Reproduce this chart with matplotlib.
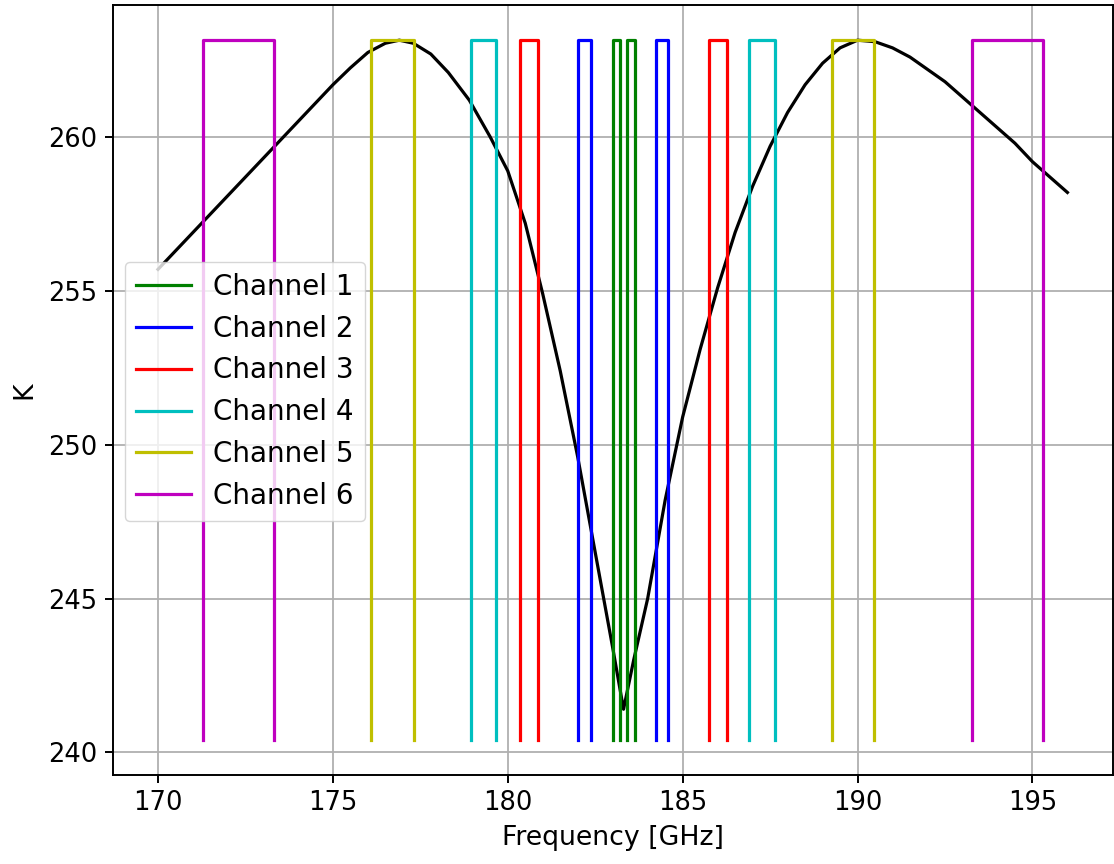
import numpy as np
import matplotlib
matplotlib.use('Agg')
import matplotlib.pyplot as plt

# brightness temperature curve
freq = [170.0, 170.5, 171.0, 171.5, 172.0, 172.5, 173.0, 173.5, 174.0, 174.5,
        175.0, 175.5, 176.0, 176.5, 176.9, 177.3, 177.8, 178.3, 178.9, 179.5,
        180.0, 180.5, 181.0, 181.5, 182.0, 182.5, 183.0, 183.31, 183.6, 184.0,
        184.5, 185.0, 185.5, 186.0, 186.5, 187.0, 187.5, 188.0, 188.5, 189.0,
        189.5, 190.0, 190.5, 191.0, 191.5, 192.0, 192.5, 193.0, 193.5, 194.0,
        194.5, 195.0, 195.5, 196.0]
temp = [255.7, 256.3, 256.9, 257.5, 258.1, 258.7, 259.3, 259.9, 260.5, 261.1,
        261.7, 262.25, 262.75, 263.05, 263.15, 263.05, 262.7, 262.1, 261.2, 260.0,
        258.9, 257.2, 254.9, 252.4, 249.6, 246.5, 243.4, 241.4, 243.0, 245.0,
        248.2, 250.9, 253.1, 255.1, 256.9, 258.4, 259.7, 260.8, 261.7, 262.4,
        262.9, 263.15, 263.1, 262.9, 262.6, 262.2, 261.8, 261.3, 260.8, 260.3,
        259.8, 259.2, 258.7, 258.2]

# channel passbands (GHz): lower band and upper band edges
channels = ['Channel 1', 'Channel 2', 'Channel 3', 'Channel 4', 'Channel 5', 'Channel 6']
lower_bands = [(183.0, 183.21), (182.01, 182.39), (180.35, 180.86),
               (178.95, 179.67), (176.09, 177.32), (171.30, 173.32)]
upper_bands = [(183.41, 183.63), (184.24, 184.57), (185.74, 186.28),
               (186.91, 187.63), (189.26, 190.48), (193.28, 195.30)]
colors = ['g', 'b', 'r', 'c', 'y', 'm']

box_top = max(temp)
box_bottom = min(temp) - 1

plt.rcParams['font.size'] = 18.5
plt.rcParams['axes.linewidth'] = 1.4
plt.rcParams['xtick.major.size'] = 6
plt.rcParams['ytick.major.size'] = 6
plt.rcParams['xtick.major.width'] = 1.4
plt.rcParams['ytick.major.width'] = 1.4
plt.rcParams['xtick.major.pad'] = 5
plt.rcParams['ytick.major.pad'] = 5
plt.rcParams['grid.linewidth'] = 1.3

fig = plt.figure(figsize=(11.14, 8.64), dpi=100)
ax = fig.add_axes([0.101, 0.103, 0.898, 0.891])

ax.plot(freq, temp, color='k', lw=2.3)

for name, lo, hi, c in zip(channels, lower_bands, upper_bands, colors):
    for i, (a, b) in enumerate([lo, hi]):
        ax.plot([a, a, b, b], [box_bottom, box_top, box_top, box_bottom],
                color=c, lw=2.3, label=name if i == 0 else None)

ax.set_xlabel('Frequency [GHz]', fontsize=19.3, labelpad=6)
ax.set_ylabel('K', fontsize=19.3, labelpad=8)
ax.set_yticks([240, 245, 250, 255, 260])
ax.grid()
ax.legend(loc='upper left', bbox_to_anchor=(0.012, 0.667), borderaxespad=0,
          fontsize=20)

fig.savefig('out.png', dpi=100)
